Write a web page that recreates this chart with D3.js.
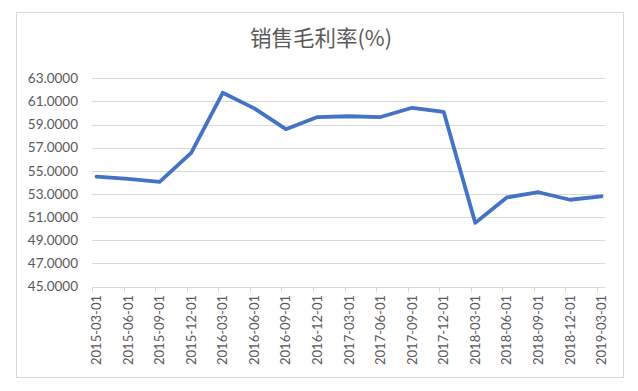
<!DOCTYPE html>
<html><head><meta charset="utf-8">
<script src="https://cdn.jsdelivr.net/npm/d3@7"></script>
<style>html,body{margin:0;padding:0;background:#fff;}svg{display:block;}</style>
</head><body>
<script>
const title = "销售毛利率(%)";
const categories = ["2015-03-01","2015-06-01","2015-09-01","2015-12-01","2016-03-01","2016-06-01","2016-09-01","2016-12-01","2017-03-01","2017-06-01","2017-09-01","2017-12-01","2018-03-01","2018-06-01","2018-09-01","2018-12-01","2019-03-01"];
const values = [54.5, 54.3, 54.05, 56.55, 61.75, 60.4, 58.6, 59.65, 59.72, 59.65, 60.45, 60.1, 50.5, 52.7, 53.15, 52.5, 52.8];
const yTicks = [45, 47, 49, 51, 53, 55, 57, 59, 61, 63];

const W = 638, H = 391;
const svg = d3.select("body").append("svg").attr("width", W).attr("height", H);

// outer chart border
svg.append("rect").attr("x", 16.5).attr("y", 12.5).attr("width", 607).attr("height", 365)
  .attr("fill", "#fff").attr("stroke", "#d9d9d9").attr("stroke-width", 1);

const x = d3.scalePoint().domain(categories).range([96.5, 601.5]);
const y = d3.scaleLinear().domain([45, 63]).range([286.5, 78.3]);
const gridL = 92, gridR = 605;

// title
svg.append("text").attr("x", 321).attr("y", 46).attr("text-anchor", "middle")
  .attr("font-family", "'Noto Sans CJK SC', 'Noto Sans', sans-serif").attr("font-size", 21.5)
  .attr("fill", "#595959").text(title);

// gridlines
svg.append("g").selectAll("line").data(yTicks).join("line")
  .attr("x1", gridL).attr("x2", gridR)
  .attr("y1", d => Math.round(y(d)) + 0.5).attr("y2", d => Math.round(y(d)) + 0.5)
  .attr("stroke", "#d9d9d9").attr("stroke-width", 1);

// y labels
svg.append("g").selectAll("text").data(yTicks).join("text")
  .attr("x", 78).attr("y", d => y(d)).attr("dy", "0.35em").attr("text-anchor", "end")
  .attr("font-family", "Lato, 'Open Sans', sans-serif").attr("font-size", 13.5)
  .attr("fill", "#595959").text(d => d3.format(".4f")(d));

// x axis ticks
const axY = Math.round(y(45)) + 0.5;
svg.append("g").selectAll("line").data(categories).join("line")
  .attr("x1", d => Math.round(x(d) - 4.5) + 0.5).attr("x2", d => Math.round(x(d) - 4.5) + 0.5)
  .attr("y1", axY).attr("y2", axY + 5)
  .attr("stroke", "#d9d9d9").attr("stroke-width", 1);

// x labels
svg.append("g").selectAll("text").data(categories).join("text")
  .attr("transform", d => `translate(${x(d)},295) rotate(-90)`)
  .attr("text-anchor", "end").attr("dy", "0.35em")
  .attr("font-family", "Lato, 'Open Sans', sans-serif").attr("font-size", 13)
  .attr("fill", "#595959").text(d => d);

// line
const line = d3.line().x((d, i) => x(categories[i])).y(d => y(d));
svg.append("path").datum(values).attr("d", line)
  .attr("fill", "none").attr("stroke", "#4472C4").attr("stroke-width", 3.8)
  .attr("stroke-linejoin", "round").attr("stroke-linecap", "round");
</script>
</body></html>
